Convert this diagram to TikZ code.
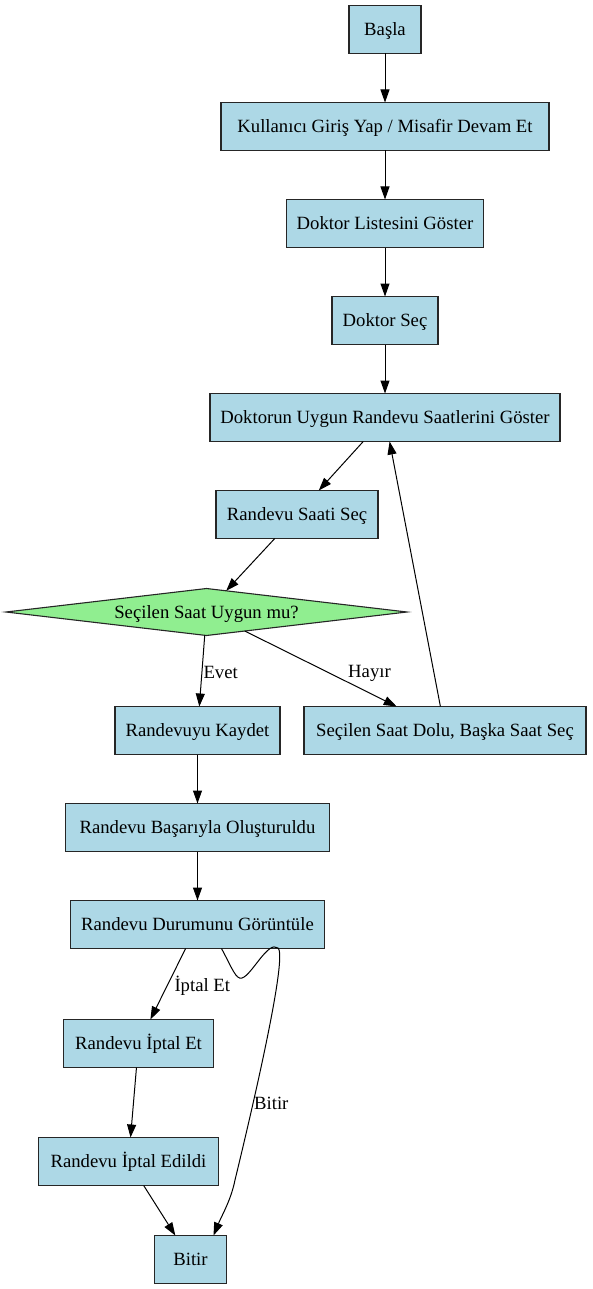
\documentclass[tikz,border=0pt]{standalone}
\usepackage{fontspec}
\setmainfont{Liberation Serif}
\usepackage{tikz}
\usetikzlibrary{shapes.geometric,arrows.meta,positioning}
\usepackage{xcolor}
\definecolor{boxblue}{HTML}{ADD8E6}
\definecolor{decisiongreen}{HTML}{90EE90}

\begin{document}
\begin{tikzpicture}[
        x=1pt, y=-1pt,
        font=\fontsize{18.7}{22}\selectfont,
        box/.style={rectangle, draw=black!85, line width=1.1pt, fill=boxblue, minimum height=48pt, inner sep=0pt, outer sep=0pt, text height=16pt, text depth=4pt},
        decision/.style={diamond, draw=black!85, line width=1.1pt, fill=decisiongreen, minimum width=401pt, minimum height=47pt, aspect=8.5, inner sep=0pt, outer sep=0pt, text height=16pt, text depth=4pt},
        arrow/.style={-{Triangle[length=13pt, width=9pt]}, line width=1pt},
        edgelabel/.style={inner sep=0pt}
    ]
        \useasboundingbox (0,0) rectangle (592,1289);

        % Login and doctor choice
        \node[box, minimum width=72pt] (start) at (385,29.5) {Başla};
        \node[box, minimum width=328pt, below=49pt of start] (login) {Kullanıcı Giriş Yap / Misafir Devam Et};
        \node[box, minimum width=197pt, below=49pt of login] (list) {Doktor Listesini Göster};
        \node[box, minimum width=106pt, below=49pt of list] (doctor) {Doktor Seç};
        \node[box, minimum width=350pt, below=49pt of doctor] (slots) {Doktorun Uygun Randevu Saatlerini Göster};

        % Time choice
        \node[box, minimum width=162pt, below=49pt of slots, xshift=-88pt] (pick) {Randevu Saati Seç};
        \node[decision, below=50pt of pick, xshift=-90.5pt] (check) {Seçilen Saat Uygun mu?};
        \node[box, minimum width=165pt, below=71pt of check, xshift=-9pt] (save) {Randevuyu Kaydet};
        \node[box, minimum width=282pt, right=24pt of save] (busy) {Seçilen Saat Dolu, Başka Saat Seç};

        % Appointment status
        \node[box, minimum width=264pt, below=49pt of save] (success) {Randevu Başarıyla Oluşturuldu};
        \node[box, minimum width=254pt, below=49pt of success] (status) {Randevu Durumunu Görüntüle};
        \node[box, minimum width=150pt, below=71pt of status, xshift=-59pt] (cancel) {Randevu İptal Et};
        \node[box, minimum width=180pt, below=70pt of cancel, xshift=-10pt] (cancelled) {Randevu İptal Edildi};
        \node[box, minimum width=72pt, below=50pt of cancelled, xshift=62pt] (finish) {Bitir};

        % Arrows
        \draw[arrow] (start) -- (login);
        \draw[arrow] (login) -- (list);
        \draw[arrow] (list) -- (doctor);
        \draw[arrow] (doctor) -- (slots);
        \draw[arrow] (slots) -- (pick);
        \draw[arrow] (pick) -- (check);
        \draw[arrow] (check) -- node[right=1pt, yshift=-2pt, edgelabel] {Evet} (save);
        \draw[arrow] (check) -- node[right=27pt, yshift=-5pt, edgelabel] {Hayır} (busy);
        \draw[arrow] (busy) -- (slots);
        \draw[arrow] (save) -- (success);
        \draw[arrow] (success) -- (status);
        \draw[arrow] (status) -- node[right=6pt, yshift=-2pt, edgelabel] {İptal Et} (cancel);
        \draw[arrow] (cancel) -- (cancelled);
        \draw[arrow] (cancelled) -- (finish);
        \draw[arrow] ([xshift=24pt]status.south) .. controls (232,968) and (236,980) .. (242,978)
            .. controls (252,975) and (268,940) .. (278,948)
            .. controls (288,956) and (252,1110) .. node[pos=0.7, right, yshift=-3pt, edgelabel] {Bitir} (235,1180)
            .. controls (231,1200) and (222,1215) .. ([xshift=23pt]finish.north);

\end{tikzpicture}
\end{document}
